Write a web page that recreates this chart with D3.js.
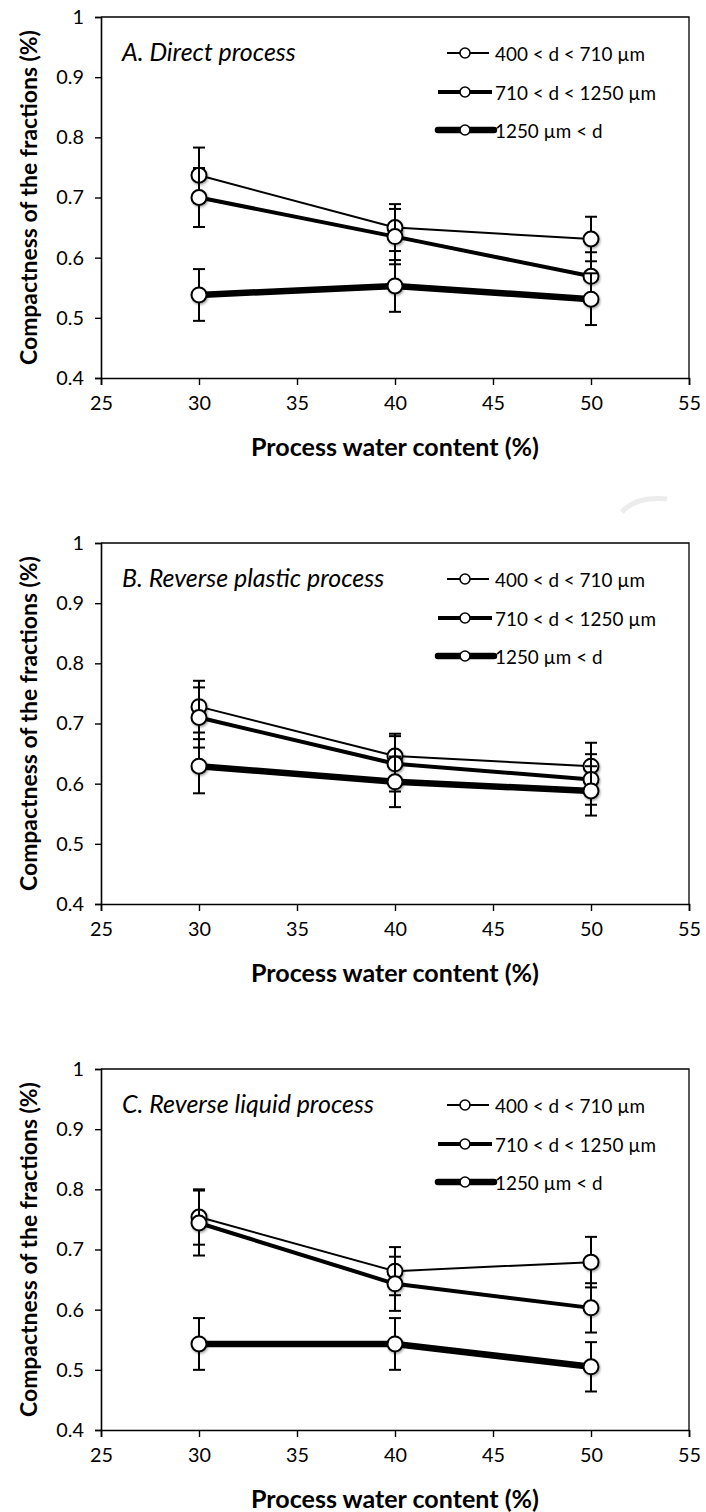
<!DOCTYPE html>
<html>
<head>
<meta charset="utf-8">
<script src="https://cdn.jsdelivr.net/npm/d3@7"></script>
<style>
  body { margin: 0; background: #fff; }
  svg { display: block; }
  text { font-family: Lato, "Open Sans", sans-serif; fill: #000; }
</style>
</head>
<body>
<svg id="chart" width="706" height="1512"></svg>
<script>
// Process water content (%) at which each fraction was measured
const waterContent = [30, 40, 50];
const xTicks = [25, 30, 35, 40, 45, 50, 55];
const yTicks = [0.4, 0.5, 0.6, 0.7, 0.8, 0.9, 1];
const fractionLabels = ["400 < d < 710 µm", "710 < d < 1250 µm", "1250 µm < d"];
const panelTitles = ["A. Direct process", "B. Reverse plastic process", "C. Reverse liquid process"];

// A. Direct process: compactness and standard deviation per fraction
const directFine = [0.737, 0.650, 0.631];
const directFineErr = [0.046, 0.039, 0.037];
const directMid = [0.700, 0.635, 0.569];
const directMidErr = [0.049, 0.046, 0.040];
const directCoarse = [0.538, 0.553, 0.531];
const directCoarseErr = [0.043, 0.043, 0.043];

// B. Reverse plastic process
const plasticFine = [0.728, 0.646, 0.629];
const plasticFineErr = [0.043, 0.037, 0.039];
const plasticMid = [0.710, 0.633, 0.607];
const plasticMidErr = [0.050, 0.046, 0.042];
const plasticCoarse = [0.629, 0.603, 0.588];
const plasticCoarseErr = [0.045, 0.042, 0.041];

// C. Reverse liquid process
const liquidFine = [0.754, 0.664, 0.679];
const liquidFineErr = [0.046, 0.040, 0.042];
const liquidMid = [0.744, 0.643, 0.603];
const liquidMidErr = [0.054, 0.045, 0.041];
const liquidCoarse = [0.543, 0.543, 0.505];
const liquidCoarseErr = [0.043, 0.043, 0.041];

const panels = [
  { title: panelTitles[0], series: [[directFine, directFineErr], [directMid, directMidErr], [directCoarse, directCoarseErr]] },
  { title: panelTitles[1], series: [[plasticFine, plasticFineErr], [plasticMid, plasticMidErr], [plasticCoarse, plasticCoarseErr]] },
  { title: panelTitles[2], series: [[liquidFine, liquidFineErr], [liquidMid, liquidMidErr], [liquidCoarse, liquidCoarseErr]] }
];

// Line weight grows with the particle size of the fraction
const lineWidths = [2, 4, 6.5];
const legendSpan = [[447, 489], [438, 492], [438, 494]];

const svg = d3.select("#chart");
const defs = svg.append("defs");
const shadow = defs.append("filter").attr("id", "markerShadow")
  .attr("x", "-50%").attr("y", "-50%").attr("width", "200%").attr("height", "200%");
shadow.append("feDropShadow").attr("dx", 1).attr("dy", 1.5)
  .attr("stdDeviation", 1.3).attr("flood-color", "#000").attr("flood-opacity", 0.35);

// faint stroke of the page watermark showing between the first two panels
svg.append("path")
  .attr("d", "M622,512 Q636,496 667,499")
  .attr("fill", "none").attr("stroke", "#ececec").attr("stroke-width", 5)
  .attr("stroke-linecap", "butt");

// Pick a font size so that a sample string spans the wanted width
function fittedSize(sample, attrs, width) {
  const probe = svg.append("text").attr("font-size", 20).text(sample);
  Object.entries(attrs).forEach(([k, v]) => probe.attr(k, v));
  const w = probe.node().getComputedTextLength();
  probe.remove();
  return 20 * width / w;
}
const xTitleSize = fittedSize("Process water content (%)", { "font-weight": "bold" }, 288);
const yTitleSize = fittedSize("Compactness of the fractions (%)", { "font-weight": "bold" }, 335);
const legendSize = fittedSize(fractionLabels[0], {}, 150);
const panelTitleSize = fittedSize(panelTitles[2], { "font-style": "italic" }, 252);
const tickSize = fittedSize("25", {}, 23);

const plotLeft = 101, plotRight = 689, plotHeight = 361;
const panelTops = [17, 543, 1069];

const x = d3.scaleLinear().domain([25, 55]).range([plotLeft, plotRight]);

panels.forEach((panel, pi) => {
  const top = panelTops[pi];
  const bottom = top + plotHeight;
  const y = d3.scaleLinear().domain([0.4, 1]).range([bottom, top]);
  const g = svg.append("g");

  // plot frame (top and right edges)
  g.append("path")
    .attr("d", `M${plotLeft},${top}H${plotRight}V${bottom}`)
    .attr("fill", "none").attr("stroke", "#000").attr("stroke-width", 1.3);

  // axes
  const yAxis = d3.axisLeft(y).tickValues(yTicks).tickSize(6).tickPadding(11)
    .tickFormat(d => d === 1 ? "1" : d3.format(".1f")(d));
  const yg = g.append("g").attr("transform", `translate(${plotLeft},0)`).call(yAxis);
  const xAxis = d3.axisBottom(x).tickValues(xTicks).tickSize(7).tickPadding(11).tickFormat(d3.format("d"));
  const xg = g.append("g").attr("transform", `translate(0,${bottom})`).call(xAxis);
  [yg, xg].forEach(ax => {
    ax.select(".domain").attr("stroke", "#000").attr("stroke-width", 1.6);
    ax.selectAll(".tick line").attr("stroke", "#000").attr("stroke-width", 1.4);
    ax.selectAll(".tick text").attr("font-size", tickSize).attr("font-family", "Lato, 'Open Sans', sans-serif").attr("fill", "#000");
  });

  // axis titles
  g.append("text")
    .attr("transform", `translate(28,${(top + bottom) / 2}) rotate(-90)`)
    .attr("text-anchor", "middle").attr("dominant-baseline", "central")
    .attr("font-size", yTitleSize).attr("font-weight", "bold")
    .text("Compactness of the fractions (%)");
  g.append("text")
    .attr("x", (plotLeft + plotRight) / 2).attr("y", bottom + 68)
    .attr("text-anchor", "middle").attr("dominant-baseline", "central")
    .attr("font-size", xTitleSize).attr("font-weight", "bold")
    .text("Process water content (%)");

  // panel title
  g.append("text")
    .attr("x", 122).attr("y", top + 34)
    .attr("dominant-baseline", "central")
    .attr("font-size", panelTitleSize).attr("font-style", "italic")
    .text(panel.title);

  // series: line, error bars, markers
  const line = d3.line().x((d, i) => x(waterContent[i])).y(d => y(d));
  panel.series.forEach(([vals, errs], si) => {
    const sg = g.append("g");
    sg.append("path").datum(vals)
      .attr("d", line).attr("fill", "none").attr("stroke", "#000")
      .attr("stroke-width", lineWidths[si]).attr("stroke-linejoin", "round");
    const bars = sg.selectAll(".err").data(vals).enter().append("g");
    bars.append("line")
      .attr("x1", (d, i) => x(waterContent[i])).attr("x2", (d, i) => x(waterContent[i]))
      .attr("y1", (d, i) => y(d + errs[i])).attr("y2", (d, i) => y(d - errs[i]))
      .attr("stroke", "#000").attr("stroke-width", 2);
    [1, -1].forEach(sgn => {
      bars.append("line")
        .attr("x1", (d, i) => x(waterContent[i]) - 6).attr("x2", (d, i) => x(waterContent[i]) + 6)
        .attr("y1", (d, i) => y(d + sgn * errs[i])).attr("y2", (d, i) => y(d + sgn * errs[i]))
        .attr("stroke", "#000").attr("stroke-width", 2);
    });
    sg.selectAll("circle").data(vals).enter().append("circle")
      .attr("cx", (d, i) => x(waterContent[i])).attr("cy", d => y(d))
      .attr("r", 7.5).attr("fill", "#fff").attr("stroke", "#000").attr("stroke-width", 2)
      .attr("filter", "url(#markerShadow)");
  });

  // legend
  fractionLabels.forEach((label, si) => {
    const ly = top + [36, 75, 113][si];
    const lg = g.append("g");
    lg.append("line")
      .attr("x1", legendSpan[si][0]).attr("x2", legendSpan[si][1])
      .attr("y1", ly).attr("y2", ly)
      .attr("stroke", "#000").attr("stroke-width", lineWidths[si])
      .attr("stroke-linecap", si === 2 ? "round" : "butt");
    lg.append("circle").attr("cx", 465).attr("cy", ly).attr("r", 5)
      .attr("fill", "#fff").attr("stroke", "#000").attr("stroke-width", 1.6);
    lg.append("text").attr("x", 495).attr("y", ly)
      .attr("dominant-baseline", "central").attr("font-size", legendSize)
      .text(label);
  });
});
</script>
</body>
</html>
